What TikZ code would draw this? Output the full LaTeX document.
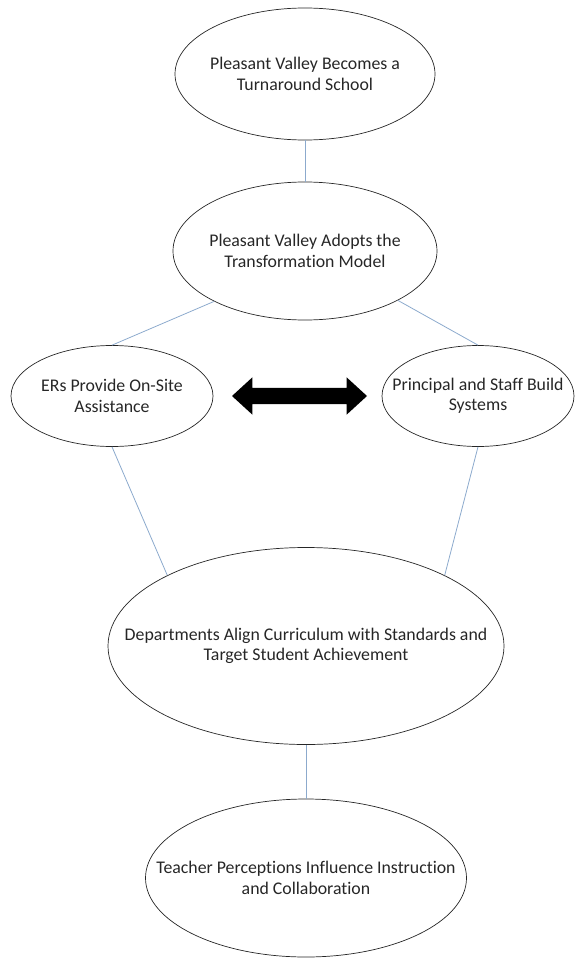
\documentclass[tikz,border=0pt]{standalone}
\usepackage{fontspec}
\setmainfont{Carlito}[Ligatures = NoCommon]
\usetikzlibrary{shapes.geometric, shapes.arrows}
\definecolor{linkblue}{RGB}{140,170,205}

\begin{document}
\begin{tikzpicture}[x = 1pt, y = 1pt,
        bubble/.style = {ellipse, draw = black!85, line width = 0.7pt, inner sep = 0pt},
        caption/.style = {align = center, text = black!85, inner sep = 0pt,
            font = \fontsize{17.8}{20.5}\selectfont},
        link/.style = {draw = linkblue, line width = 0.8pt}]

            \useasboundingbox (0, 0) rectangle (575, -958);

            \node (e1) at (305, -74) [bubble, minimum width = 260, minimum height = 132] {};
            \node (e2) at (305, -251) [bubble, minimum width = 264, minimum height = 138] {};
            \node (e3) at (112, -396) [bubble, minimum width = 202, minimum height = 101] {};
            \node (e4) at (478, -396) [bubble, minimum width = 192, minimum height = 101] {};
            \node (e5) at (306, -646) [bubble, minimum width = 396, minimum height = 197] {};
            \node (e6) at (306, -878) [bubble, minimum width = 321, minimum height = 158] {};

            \node (t1) at (e1) [caption] {Pleasant Valley Becomes a\\Turnaround School};
            \node (t2) at (e2) [caption] {Pleasant Valley Adopts the\\Transformation Model};
            \node (t3) at (e3) [caption] {ERs Provide On-Site\\Assistance};
            \node (t4) at (e4) [caption] {Principal and Staff Build\\Systems};
            \node (t5) at (e5) [caption] {Departments Align Curriculum with Standards and\\Target Student Achievement};
            \node (t6) at (e6) [caption] {Teacher Perceptions Influence Instruction\\and Collaboration};

            \node (swap) at (299.5, -396) [double arrow, fill = black, inner xsep = 0pt, inner ysep = 8pt,
                minimum height = 135, double arrow head extend = 10.5,
                double arrow tip angle = 85] {};

            \draw[link] (e1.south) -- (e2.north);
            \draw[link] (e2.209) -- (e3.north);
            \draw[link] (e2.332) -- (e4.north);
            \draw[link] (e3.south) -- (e5.153);
            \draw[link] (e4.south) -- (e5.27);
            \draw[link] (e5.south) -- (e6.north);
        \end{tikzpicture}
\end{document}
